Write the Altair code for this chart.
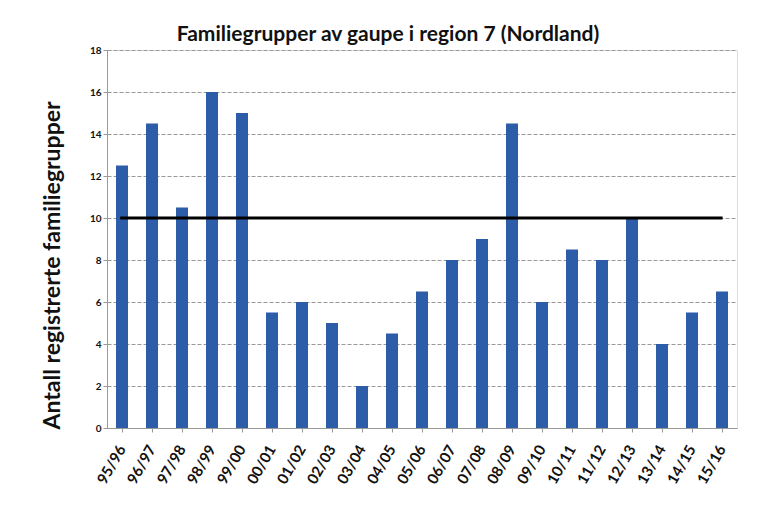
import altair as alt
import pandas as pd

seasons = ["95/96", "96/97", "97/98", "98/99", "99/00", "00/01", "01/02", "02/03",
           "03/04", "04/05", "05/06", "06/07", "07/08", "08/09", "09/10", "10/11",
           "11/12", "12/13", "13/14", "14/15", "15/16"]
counts = [12.5, 14.5, 10.5, 16, 15, 5.5, 6, 5, 2, 4.5, 6.5, 8, 9, 14.5, 6, 8.5,
          8, 10, 4, 5.5, 6.5]
target_value = [10]
target_span = [seasons[0], seasons[-1]]
y_ticks = [0, 2, 4, 6, 8, 10, 12, 14, 16, 18]

df = pd.DataFrame({"season": seasons, "count": counts})
line_df = pd.DataFrame({"start": [target_span[0]], "end": [target_span[1]],
                        "value": target_value})

FONT = "Lato"

x_scale = alt.Scale(domain=seasons, paddingInner=0.6, paddingOuter=0.3)
y_scale = alt.Scale(domain=[0, 18], nice=False)

bars = alt.Chart(df).mark_bar(color="#2d5ca9").encode(
    x=alt.X("season:N", scale=x_scale, sort=seasons,
            axis=alt.Axis(title=None, labelAngle=300, labelFontSize=15,
                          labelFontWeight="bold", labelColor="#111",
                          labelFont=FONT, domainColor="#999", tickColor="#999",
                          tickSize=4, labelPadding=14, grid=False)),
    y=alt.Y("count:Q", scale=y_scale,
            axis=alt.Axis(title="Antall registrerte familiegrupper", values=y_ticks,
                          titleFontSize=23, titleFontWeight="bold", titleFont=FONT,
                          titleColor="#111", titlePadding=25, titleY=215,
                          labelFontSize=10, labelFontWeight="bold", labelFont=FONT,
                          labelColor="#111", domainColor="#999", tickColor="#999",
                          tickSize=4, gridColor="#999", gridDash=[4, 2],
                          gridWidth=1)),
)

rule = alt.Chart(line_df).mark_rule(color="black", strokeWidth=3).encode(
    x=alt.X("start:N", scale=x_scale, bandPosition=0.35),
    x2=alt.X2("end:N", bandPosition=0.55),
    y=alt.Y("value:Q", scale=y_scale),
)

chart = alt.layer(bars, rule).properties(
    width=630, height=378,
    title=alt.TitleParams("Familiegrupper av gaupe i region 7 (Nordland)",
                          fontSize=21, fontWeight="bold", font=FONT,
                          color="#111", anchor="middle", dx=-34, offset=0),
    padding={"left": 99, "top": 42, "right": 10, "bottom": 70},
    autosize=alt.AutoSizeParams(type="none"),
).configure_view(stroke=None).configure(background="white")

chart.save("out.html", embed_options={"renderer": "svg", "actions": False})
